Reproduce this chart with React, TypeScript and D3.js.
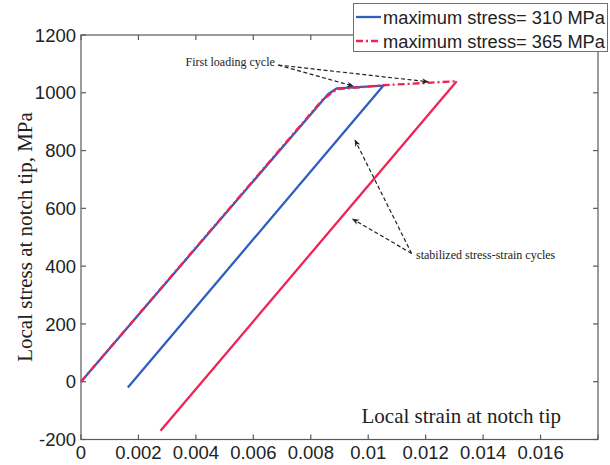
import React from "react";
import * as d3 from "d3";

// Strain / stress histories at the notch tip (first loading + stabilized unloading branch)
const blueLoadStrain = [0, 0.0086, 0.0089, 0.01053];
const blueLoadStress = [0, 995, 1015, 1025];
const blueUnloadStrain = [0.01053, 0.00163];
const blueUnloadStress = [1025, -20];

const redLoadStrain = [0, 0.0084, 0.0089, 0.0105, 0.01308];
const redLoadStress = [0, 975, 1012, 1026, 1040];
const redUnloadStrain = [0.01308, 0.00277];
const redUnloadStress = [1040, -170];

const xTicks = [0, 0.002, 0.004, 0.006, 0.008, 0.01, 0.012, 0.014, 0.016, 0.018];
const xTickLabels = ["0", "0.002", "0.004", "0.006", "0.008", "0.01", "0.012", "0.014", "0.016", ""];
const yTicks = [-200, 0, 200, 400, 600, 800, 1000, 1200];

const legendLabels = ["maximum stress= 310 MPa", "maximum stress= 365 MPa"];

// Annotation arrows in data units: [fromStrain, fromStress, toStrain, toStress]
const firstCycleArrows = [
  [0.00687, 1096, 0.00948, 1023],
  [0.00687, 1096, 0.01209, 1038],
];
const stabilizedArrows = [
  [0.01151, 444, 0.00954, 836],
  [0.01151, 444, 0.00946, 563],
];

const BLUE = "#2f5fbd";
const RED = "#ef2354";
const AXIS = "#5a5a5a";
const SANS = "'Liberation Sans', Arial, sans-serif";
const SERIF = "'Liberation Serif', 'Times New Roman', serif";

const W = 610;
const H = 465;
const left = 81;
const right = 598;
const top = 35;
const bottom = 439.5;

export default function App() {
  const x = d3.scaleLinear().domain([0, 0.018]).range([left, right]);
  const y = d3.scaleLinear().domain([-200, 1200]).range([bottom, top]);

  const path = (xs: number[], ys: number[]) =>
    d3
      .line<number>()
      .x((_, i) => x(xs[i]))
      .y((_, i) => y(ys[i]))(xs) || "";

  const tickLen = 5;

  const arrow = (a: number[], key: string) => {
    const x1 = x(a[0]);
    const y1 = y(a[1]);
    const x2 = x(a[2]);
    const y2 = y(a[3]);
    return (
      <line
        key={key}
        x1={x1}
        y1={y1}
        x2={x2}
        y2={y2}
        stroke="#222"
        strokeWidth={1.2}
        strokeDasharray="4,2.5"
        markerEnd="url(#arrowHead)"
      />
    );
  };

  return (
    <svg
      width={W}
      height={H}
      style={{ position: "absolute", left: 0, top: 0, background: "#fff" }}
    >
      <defs>
        <marker
          id="arrowHead"
          viewBox="0 0 10 10"
          refX="9"
          refY="5"
          markerWidth="7"
          markerHeight="7"
          markerUnits="userSpaceOnUse"
          orient="auto"
        >
          <path d="M0,1 L10,5 L0,9 L3,5 Z" fill="#222" />
        </marker>
      </defs>

      {/* axes box */}
      <rect
        x={left}
        y={top}
        width={right - left}
        height={bottom - top}
        fill="none"
        stroke={AXIS}
        strokeWidth={1.2}
      />

      {/* inward ticks on all sides */}
      {xTicks.map((t, i) => (
        <g key={"xt" + i}>
          <line x1={x(t)} x2={x(t)} y1={bottom} y2={bottom - tickLen} stroke={AXIS} strokeWidth={1.2} />
          <line x1={x(t)} x2={x(t)} y1={top} y2={top + tickLen} stroke={AXIS} strokeWidth={1.2} />
          {xTickLabels[i] && (
            <text
              x={x(t)}
              y={459}
              textAnchor="middle"
              fontFamily={SANS}
              fontSize={18.5}
              fill="#222"
            >
              {xTickLabels[i]}
            </text>
          )}
        </g>
      ))}
      {yTicks.map((t) => (
        <g key={"yt" + t}>
          <line x1={left} x2={left + tickLen} y1={y(t)} y2={y(t)} stroke={AXIS} strokeWidth={1.2} />
          <line x1={right} x2={right - tickLen} y1={y(t)} y2={y(t)} stroke={AXIS} strokeWidth={1.2} />
          <text
            x={76}
            y={y(t)}
            dy="0.36em"
            textAnchor="end"
            fontFamily={SANS}
            fontSize={18.5}
            fill="#222"
          >
            {t}
          </text>
        </g>
      ))}

      {/* curves */}
      <path d={path(blueLoadStrain, blueLoadStress)} fill="none" stroke={BLUE} strokeWidth={2.3} strokeLinejoin="round" />
      <path d={path(blueUnloadStrain, blueUnloadStress)} fill="none" stroke={BLUE} strokeWidth={2.3} />
      <path
        d={path(redLoadStrain, redLoadStress)}
        fill="none"
        stroke={RED}
        strokeWidth={2.3}
        strokeDasharray="7,3,2,3"
        strokeLinejoin="round"
      />
      <path d={path(redUnloadStrain, redUnloadStress)} fill="none" stroke={RED} strokeWidth={2.3} />

      {/* annotations */}
      {firstCycleArrows.map((a, i) => arrow(a, "fa" + i))}
      {stabilizedArrows.map((a, i) => arrow(a, "sa" + i))}
      <text x={185.5} y={66} fontFamily={SERIF} fontSize={12} fill="#222">
        First loading cycle
      </text>
      <text x={416} y={259} fontFamily={SERIF} fontSize={12} fill="#222">
        stabilized stress-strain cycles
      </text>

      {/* axis titles */}
      <text x={561} y={423} textAnchor="end" fontFamily={SERIF} fontSize={21} fill="#222">
        Local strain at notch tip
      </text>
      <text
        transform={`translate(32,${237}) rotate(-90)`}
        textAnchor="middle"
        fontFamily={SERIF}
        fontSize={21}
        fill="#222"
      >
        Local stress at notch tip, MPa
      </text>

      {/* legend */}
      <rect x={353.5} y={3.5} width={254} height={48} fill="#fff" stroke="#707070" strokeWidth={1} />
      <line x1={356} x2={381} y1={17} y2={17} stroke={BLUE} strokeWidth={2.3} />
      <line x1={356} x2={381} y1={41} y2={41} stroke={RED} strokeWidth={2.3} strokeDasharray="7,3,2,3" />
      {legendLabels.map((l, i) => (
        <text
          key={l}
          x={383}
          y={17 + i * 24}
          dy="0.36em"
          fontFamily={SANS}
          fontSize={18.3}
          fill="#222"
        >
          {l}
        </text>
      ))}
    </svg>
  );
}
